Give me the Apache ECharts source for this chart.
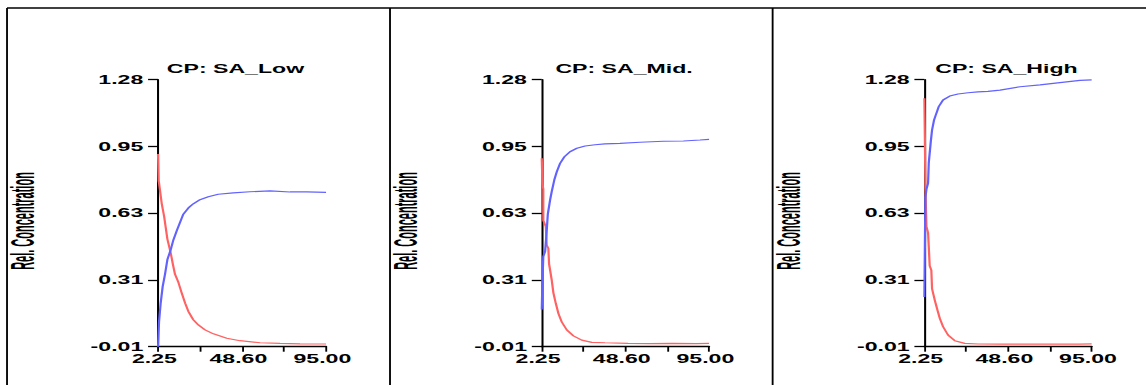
<!DOCTYPE html>
<html>
<head>
<meta charset="utf-8">
<script src="https://cdn.jsdelivr.net/npm/echarts@6/dist/echarts.min.js"></script>
<style>
html,body{margin:0;padding:0;background:#fff;overflow:hidden}
#wrap{width:1146px;height:385px;overflow:hidden;background:#fff}
#chart{width:620px;height:385px;transform:scaleX(1.8484);transform-origin:0 0}
</style>
</head>
<body>
<div id="wrap"><div id="chart"></div></div>
<script>
// ---- data ----
const panelTitles = ['CP: SA_Low', 'CP: SA_Mid.', 'CP: SA_High'];
const yAxisName = 'Rel. Concentration';

const yTickValues = [-0.01, 0.3125, 0.635, 0.9575, 1.28];
const yTickLabels = ['-0.01', '0.31', '0.63', '0.95', '1.28'];
const xTickValues = [2.25, 25.4375, 48.625, 71.8125, 95];
const xLabelValues = [2.25, 48.625, 95];
const xTickLabels = ['2.25', '48.60', '95.00'];

// Low
const lowRedX  = [2.25, 2.6, 2.8, 4.3, 5.6, 7.4, 9.3, 10.4, 11.6, 13.5, 15.3, 17.2, 19.0, 21.7, 24.5, 28.2, 32.8, 40.2, 47.5, 58.6, 69.6, 80.6, 95];
const lowRedY  = [0.92, 0.79, 0.78, 0.68, 0.62, 0.51, 0.44, 0.39, 0.34, 0.30, 0.25, 0.20, 0.16, 0.12, 0.095, 0.071, 0.052, 0.031, 0.019, 0.009, 0.006, 0.004, 0.003];
const lowBlueX = [2.25, 2.8, 3.7, 4.8, 6.1, 7.4, 9.3, 10.7, 12.6, 14.4, 16.2, 19.0, 21.7, 25.4, 30.0, 35.5, 43.8, 53.0, 64.1, 75.1, 84.3, 95];
const lowBlueY = [-0.01, 0.11, 0.20, 0.28, 0.34, 0.41, 0.46, 0.505, 0.55, 0.59, 0.63, 0.66, 0.68, 0.70, 0.714, 0.726, 0.733, 0.738, 0.742, 0.737, 0.737, 0.735];

// Mid
const midRedX  = [2.25, 2.6, 3.1, 3.1, 4.5, 5.0, 5.9, 6.3, 7.8, 8.7, 10.0, 11.5, 13.3, 16.1, 19.8, 24.4, 30.0, 37.3, 50, 62, 75, 88, 95];
const midRedY  = [0.90, 0.78, 0.75, 0.60, 0.57, 0.48, 0.465, 0.39, 0.31, 0.25, 0.20, 0.15, 0.11, 0.071, 0.042, 0.022, 0.011, 0.009, 0.006, 0.005, 0.006, 0.005, 0.006];
const midBlueX = [2.25, 2.6, 3.1, 4.1, 5.0, 5.6, 6.9, 7.8, 9.2, 10.6, 12.4, 14.8, 17.9, 21.7, 26.3, 31.8, 37.3, 45.6, 56.7, 69.7, 80.8, 90.0, 95];
const midBlueY = [0.17, 0.30, 0.425, 0.45, 0.55, 0.63, 0.70, 0.74, 0.795, 0.835, 0.875, 0.907, 0.931, 0.948, 0.959, 0.965, 0.969, 0.972, 0.977, 0.982, 0.983, 0.988, 0.991];

// High
const highRedX  = [2.25, 2.8, 2.8, 3.4, 4.3, 5.2, 6.1, 6.5, 8.0, 9.5, 10.8, 12.6, 15.4, 19.1, 24.6, 32.0, 45, 60, 75, 88, 95];
const highRedY  = [1.19, 0.80, 0.76, 0.57, 0.54, 0.38, 0.36, 0.27, 0.215, 0.167, 0.127, 0.087, 0.046, 0.019, 0.006, 0.003, 0.002, 0.002, 0.003, 0.002, 0.004];
const highBlueX = [2.25, 2.8, 3.4, 4.3, 4.7, 5.8, 6.5, 7.6, 8.9, 10.2, 12.6, 16.3, 20.9, 26.5, 32.0, 37.5, 44.2, 55.3, 66.4, 77.4, 88.5, 95];
const highBlueY = [0.23, 0.71, 0.75, 0.78, 0.88, 0.98, 1.036, 1.084, 1.117, 1.149, 1.181, 1.20, 1.21, 1.216, 1.22, 1.223, 1.229, 1.245, 1.254, 1.265, 1.276, 1.278];

// ---- layout (container units, stretched horizontally by CSS) ----
const FONT = "'Liberation Sans', Arial, Helvetica, sans-serif";
const RED = '#ff6262';
const BLUE = '#6262ff';
const layout = [
  {left: 85.5,  width: 90.9, titleX: 127.4, nameX: 12.3},
  {left: 293.1, width: 90.5, titleX: 337.6, nameX: 219.5},
  {left: 500.1, width: 90.5, titleX: 544.5, nameX: 426.5}
];
const panelData = [
  [lowRedX, lowRedY, lowBlueX, lowBlueY],
  [midRedX, midRedY, midBlueX, midBlueY],
  [highRedX, highRedY, highBlueX, highBlueY]
];

function zip(xs, ys) { return xs.map((x, i) => [x, ys[i]]); }
function nearestLabel(vals, labels, v) {
  let best = 0;
  for (let i = 1; i < vals.length; i++) if (Math.abs(vals[i] - v) < Math.abs(vals[best] - v)) best = i;
  return labels[best];
}

const grids = [], xAxes = [], yAxes = [], series = [], titles = [], graphics = [];
layout.forEach((L, i) => {
  grids.push({left: L.left, width: L.width, top: 79.5, height: 267.2, containLabel: false});
  xAxes.push({
    type: 'value', gridIndex: i, min: 2.25, max: 95,
    splitLine: {show: false},
    axisLine: {show: true, onZero: false, lineStyle: {color: '#000', width: 1.3}},
    axisTick: {show: true, customValues: xTickValues, length: 5, lineStyle: {color: '#000', width: 1}},
    axisLabel: {
      customValues: xLabelValues,
      formatter: v => nearestLabel(xLabelValues, xTickLabels, v),
      color: '#000', fontWeight: 'bold', fontSize: 12.5, fontFamily: FONT, margin: 5,
      padding: [0, 4, 0, 0]
    }
  });
  yAxes.push({
    type: 'value', gridIndex: i, min: -0.01, max: 1.28,
    splitLine: {show: false},
    axisLine: {show: true, onZero: false, lineStyle: {color: '#000', width: 1.1}},
    axisTick: {show: true, customValues: yTickValues, length: 5.4, lineStyle: {color: '#000', width: 1.3}},
    axisLabel: {
      customValues: yTickValues,
      formatter: v => nearestLabel(yTickValues, yTickLabels, v),
      color: '#000', fontWeight: 'bold', fontSize: 12.5, fontFamily: FONT, margin: 8
    }
  });
  const d = panelData[i];
  series.push({
    type: 'line', xAxisIndex: i, yAxisIndex: i, data: zip(d[0], d[1]),
    showSymbol: false, symbol: 'none', lineStyle: {color: RED, width: 1.2}, z: 2
  });
  series.push({
    type: 'line', xAxisIndex: i, yAxisIndex: i, data: zip(d[2], d[3]),
    showSymbol: false, symbol: 'none', lineStyle: {color: BLUE, width: 1.2}, z: 3
  });
  titles.push({
    text: panelTitles[i], left: L.titleX, top: 62, padding: 0, textAlign: 'center',
    textStyle: {color: '#000', fontWeight: 'bold', fontSize: 12.5, fontFamily: FONT}
  });
  graphics.push({
    type: 'text', x: L.nameX, y: 221, rotation: Math.PI / 2, scaleY: 1.6,
    style: {text: yAxisName, x: 0, y: 0, textAlign: 'center', textVerticalAlign: 'middle',
            fontSize: 11, fontWeight: 'bold', fontFamily: FONT, fill: '#000'}
  });
});

// frame lines
[[3.8, 8, 620, 8], [3.8, 8, 3.8, 385], [211.0, 8, 211.0, 385], [418.0, 8, 418.0, 385]].forEach(s => {
  graphics.push({type: 'line', shape: {x1: s[0], y1: s[1], x2: s[2], y2: s[3]},
    style: {stroke: '#000', lineWidth: s[1] === s[3] ? 1.4 : 1.0}, z: 10});
});

const chart = echarts.init(document.getElementById('chart'), null, {renderer: 'svg'});
chart.setOption({
  animation: false,
  backgroundColor: '#fff',
  title: titles,
  grid: grids,
  xAxis: xAxes,
  yAxis: yAxes,
  series: series,
  graphic: graphics
});
</script>
</body>
</html>
